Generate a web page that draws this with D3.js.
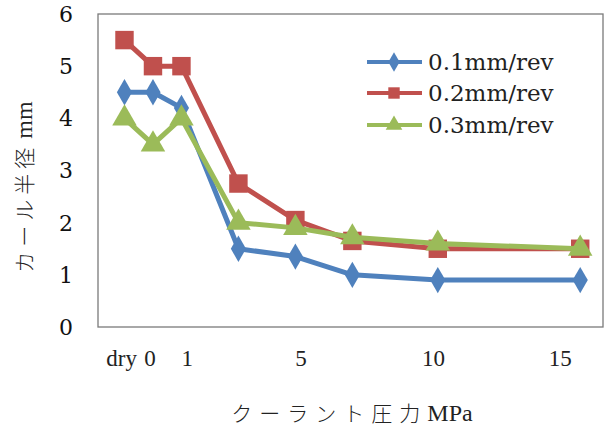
<!DOCTYPE html>
<html><head><meta charset="utf-8">
<script src="https://cdn.jsdelivr.net/npm/d3@7"></script>
<style>body{margin:0;background:#fff}svg{display:block}</style>
</head><body>
<svg id="c" width="608" height="429"></svg>
<script>
// x positions: "dry" plotted at -1, then coolant pressure values (MPa)
const xValues = [-1, 0, 1, 3, 5, 7, 10, 15];
const series01 = [4.5, 4.5, 4.2, 1.5, 1.35, 1.0, 0.9, 0.9];
const series02 = [5.5, 5.0, 5.0, 2.75, 2.05, 1.65, 1.5, 1.5];
const series03 = [4.0, 3.5, 4.0, 2.0, 1.9, 1.72, 1.6, 1.5];
const seriesNames = ["0.1mm/rev", "0.2mm/rev", "0.3mm/rev"];
const yTicks = [0, 1, 2, 3, 4, 5, 6];
const xTickLabels = ["dry", "0", "1", "5", "10", "15"];
const xTickAt = [-1.1, -0.1, 1.2, 5.2, 9.85, 14.3];
const yTitleJa = "カール半径", yTitleUnit = "mm";
const xTitleJa = "クーラント圧力", xTitleUnit = "MPa";

const svg = d3.select("#c");
const L = 98, R = 603, T = 14, B = 327;
const x = d3.scaleLinear().domain([-1.93, 15.8]).range([L, R]);
const y = d3.scaleLinear().domain([0, 6]).range([B, T]);

const colors = ["#4F81BD", "#C0504D", "#9BBB59"];
const shapes = [d3.symbolDiamond, d3.symbolSquare, d3.symbolTriangle];
const sizes = [200, 340, 260];
const data = [series01, series02, series03];

// plot area border
svg.append("rect").attr("x", L).attr("y", T).attr("width", R - L).attr("height", B - T)
  .attr("fill", "none").attr("stroke", "#7a7a7a").attr("stroke-width", 1.3);

// y axis labels
svg.append("g").selectAll("text").data(yTicks).join("text")
  .attr("x", 73).attr("y", d => y(d)).attr("dy", "0.36em")
  .attr("text-anchor", "end").attr("font-family", "DejaVu Serif").attr("font-size", 22)
  .attr("fill", "#111").text(d => d);

// x tick labels
svg.append("g").selectAll("text").data(xTickLabels).join("text")
  .attr("x", (d, i) => x(xTickAt[i])).attr("y", 366)
  .attr("text-anchor", "middle").attr("font-family", "Liberation Serif").attr("font-size", 23)
  .attr("fill", "#222").text(d => d);

// titles
const yt = svg.append("text").attr("transform", "translate(32,187) rotate(-90)")
  .attr("text-anchor", "middle").attr("fill", "#222");
yt.append("tspan").attr("font-family", "Noto Sans CJK JP").attr("font-weight", 300)
  .attr("font-size", 21).attr("letter-spacing", 5).text(yTitleJa);
yt.append("tspan").attr("font-family", "Liberation Serif").attr("font-size", 24).attr("dx", 4).text(yTitleUnit);

const xt = svg.append("text").attr("x", 352).attr("y", 421)
  .attr("text-anchor", "middle").attr("fill", "#222");
xt.append("tspan").attr("font-family", "Noto Sans CJK JP").attr("font-weight", 300)
  .attr("font-size", 21).attr("letter-spacing", 7).text(xTitleJa);
xt.append("tspan").attr("font-family", "Liberation Serif").attr("font-size", 24).text(xTitleUnit);

const line = d3.line().x((d, i) => x(xValues[i])).y(d => y(d));

data.forEach((s, k) => {
  const g = svg.append("g");
  g.append("path").datum(s).attr("d", line).attr("fill", "none")
    .attr("stroke", colors[k]).attr("stroke-width", 5).attr("stroke-linejoin", "round");
  g.selectAll("path.m").data(s).join("path").attr("class", "m")
    .attr("transform", (d, i) => `translate(${x(xValues[i])},${y(d)})`)
    .attr("d", d3.symbol().type(shapes[k]).size(sizes[k]))
    .attr("fill", colors[k]);
});

// legend
const legY = [62, 93, 125];
seriesNames.forEach((n, k) => {
  const g = svg.append("g");
  g.append("line").attr("x1", 367).attr("x2", 422).attr("y1", legY[k]).attr("y2", legY[k])
    .attr("stroke", colors[k]).attr("stroke-width", 4);
  g.append("path").attr("transform", `translate(394,${legY[k]})`)
    .attr("d", d3.symbol().type(shapes[k]).size([110, 130, 120][k])).attr("fill", colors[k]);
  g.append("text").attr("x", 428).attr("y", legY[k]).attr("dy", "0.36em")
    .attr("font-family", "DejaVu Serif").attr("font-size", 23).attr("fill", "#222").text(n);
});
</script>
</body></html>
